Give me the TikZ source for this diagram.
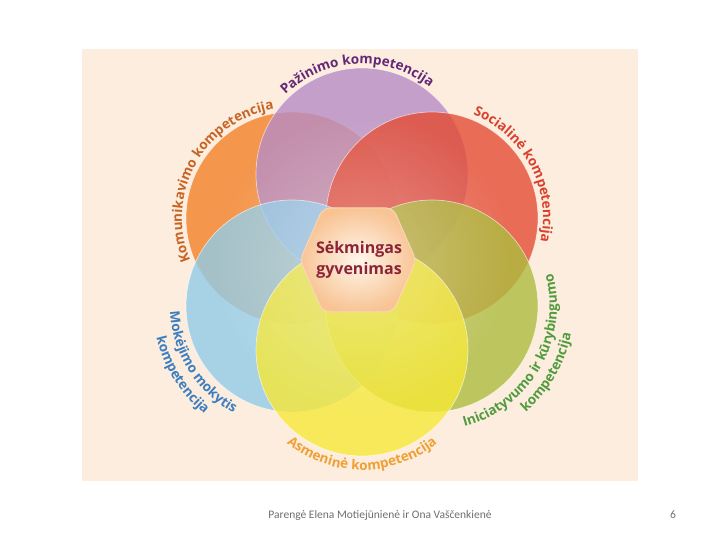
\documentclass[tikz,border=0pt]{standalone}
\usepackage{fontspec}
\setmainfont{Open Sans}
\newfontfamily\footfont{Carlito}
\usetikzlibrary{decorations.text,fadings}

\definecolor{bgpeach}{RGB}{253,237,222}
\definecolor{cOrange}{RGB}{244,150,76}
\definecolor{cPurple}{RGB}{182,140,196}
\definecolor{cRed}{RGB}{228,76,52}
\definecolor{cBlue}{RGB}{146,204,232}
\definecolor{cGreen}{RGB}{172,188,62}
\definecolor{cYellow}{RGB}{246,232,56}
\definecolor{tOrange}{RGB}{200,100,35}
\definecolor{tPurple}{RGB}{100,40,120}
\definecolor{tRed}{RGB}{215,65,45}
\definecolor{tBlue}{RGB}{58,125,192}
\definecolor{tGreen}{RGB}{80,155,60}
\definecolor{tYellow}{RGB}{240,160,50}
\definecolor{tCenter}{RGB}{140,35,55}
\definecolor{hexIn}{RGB}{255,246,236}
\definecolor{hexOut}{RGB}{248,196,148}
\definecolor{hexEdge}{RGB}{250,215,180}
\definecolor{footgray}{RGB}{110,110,110}

\tikzfading[name=glow, inner color=transparent!0, outer color=transparent!100]

\tikzset{
  ring/.style={fill=#1, fill opacity=0.8, draw=white, draw opacity=0.6, line width=0.7pt},
  arclabel/.style 2 args={decorate, decoration={text along path, text align=center,
      text color=#1, text={|\bfseries\fontsize{13.5}{13.5}\selectfont|#2}}},
}

\begin{document}
\begin{tikzpicture}[x=1pt,y=1pt]
 \def\rad{106}
 \useasboundingbox (0,0) rectangle (720,540);
 \fill[bgpeach] (82,59) rectangle (638,491);

 \coordinate (cMid) at (362,278);
 \coordinate (cPur) at (362,366);
 \coordinate (cRed) at (432,322);
 \coordinate (cGrn) at (432,234);
 \coordinate (cYel) at (362,190);
 \coordinate (cBlu) at (292,234);
 \coordinate (cOra) at (292,322);

 % the six circles
 \fill[cOrange] (cOra) circle (\rad);
 \draw[white, opacity=0.6, line width=0.7pt] (cOra) circle (\rad);
 \path[ring=cPurple] (cPur) circle (\rad);
 \path[ring=cRed] (cRed) circle (\rad);
 \path[ring=cBlue] (cBlu) circle (\rad);
 \path[ring=cGreen] (cGrn) circle (\rad);
 \path[ring=cYellow] (cYel) circle (\rad);
 \fill[white, fill opacity=0.3, path fading=glow] (cMid) circle (150);

 % centre
 \begin{scope}[shift={(358,280)}]
  \shade[inner color=hexIn, outer color=hexOut, draw=hexEdge, line width=1pt, rounded corners=7pt]
   (-58,0) -- (-35,52) -- (35,52) -- (58,0) -- (35,-52) -- (-35,-52) -- cycle;
 \end{scope}
 \node[align=center, text=tCenter, font=\bfseries\fontsize{16}{21}\selectfont] (life) at (359,280) {Sėkmingas\\gyvenimas};

 % labels round the circles
 \path[arclabel={tPurple}{Pažinimo kompetencija}] (cPur) ++(153:110) arc[start angle=153, end angle=33, radius=110];
 \path[arclabel={tOrange}{Komunikavimo kompetencija}] (cOra) ++(211:110) arc[start angle=211, end angle=91, radius=110];
 \path[arclabel={tRed}{Socialinė kompetencija}] (cRed) ++(88:111) arc[start angle=88, end angle=-32, radius=111];
 \path[arclabel={tBlue}{Mokėjimo mokytis}] (cBlu) ++(152:122) arc[start angle=152, end angle=272, radius=122];
 \path[arclabel={tBlue}{kompetencija}] (cBlu) ++(152:139) arc[start angle=152, end angle=272, radius=139];
 \path[arclabel={tGreen}{Iniciatyvumo ir kūrybingumo}] (cGrn) ++(-100:125) arc[start angle=-100, end angle=40, radius=125];
 \path[arclabel={tGreen}{kompetencija}] (cGrn) ++(-100:142) arc[start angle=-100, end angle=40, radius=142];
 \path[arclabel={tYellow}{Asmeninė kompetencija}] (cYel) ++(200:120) arc[start angle=200, end angle=340, radius=120];

 % footer
 \node[font=\footfont\fontsize{11.5}{13}\selectfont, text=footgray] (credit) at (380,25) {Parengė Elena Motiejūnienė ir Ona Vaščenkienė};
 \node[font=\footfont\fontsize{11.5}{13}\selectfont, text=footgray] (page) at (673,25) {6};
\end{tikzpicture}
\end{document}
